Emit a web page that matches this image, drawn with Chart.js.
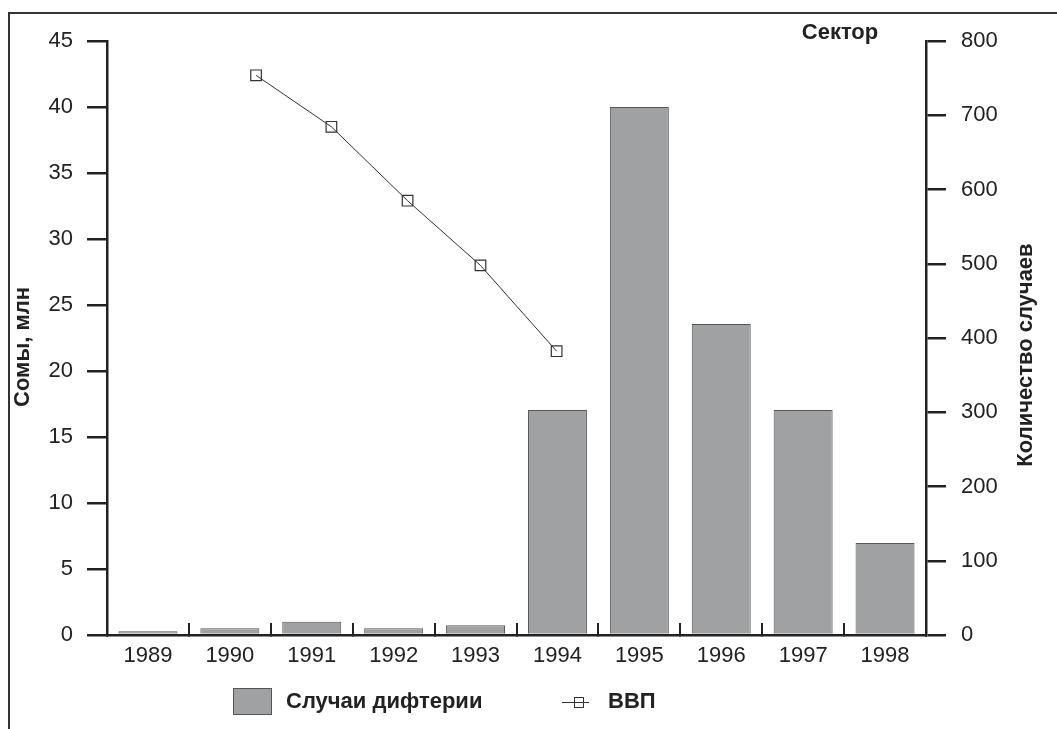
<!DOCTYPE html>
<html>
<head>
<meta charset="utf-8">
<script src="https://cdn.jsdelivr.net/npm/chart.js@4/dist/chart.umd.min.js"></script>
<style>
  body { margin: 0; background: #fff; }
  #wrap { position: relative; width: 1057px; height: 729px; }
</style>
</head>
<body>
<div id="wrap"><canvas id="chart"></canvas></div>
<script>
// Data
const years = ["1989", "1990", "1991", "1992", "1993", "1994", "1995", "1996", "1997", "1998"];
const diphtheriaCases = [5, 9, 18, 9, 13, 303, 711, 419, 303, 124];
// GDP points sit slightly off the year centres in the original
const gdpYears = [1990.32, 1991.24, 1992.17, 1993.06, 1993.99];
const gdpValues = [42.4, 38.5, 32.9, 28.0, 21.5];

const FONT = "'Liberation Sans', Arial, sans-serif";
const INK = "#222";
const BAR_FILL = "#a0a1a3";
const BAR_EDGE = "#555";

// frame, axis titles and legend
const decorPlugin = {
  id: "decor",
  beforeDraw(chart) {
    const ctx = chart.ctx;
    ctx.save();
    ctx.fillStyle = "#fff";
    ctx.fillRect(0, 0, chart.width, chart.height);
    ctx.strokeStyle = "#333";
    ctx.lineWidth = 2;
    ctx.beginPath();
    ctx.moveTo(9, chart.height);
    ctx.lineTo(9, 13);
    ctx.lineTo(chart.width, 13);
    ctx.stroke();
    ctx.restore();
  },
  afterDraw(chart) {
    const ctx = chart.ctx;
    ctx.save();
    ctx.fillStyle = INK;
    ctx.font = "bold 22px " + FONT;
    ctx.textAlign = "center";
    ctx.textBaseline = "middle";

    ctx.save();
    ctx.translate(23, 347);
    ctx.rotate(-Math.PI / 2);
    ctx.fillText("Сомы, млн", 0, 0);
    ctx.restore();

    ctx.save();
    ctx.translate(1026, 355);
    ctx.rotate(-Math.PI / 2);
    ctx.fillText("Количество случаев", 0, 0);
    ctx.restore();

    ctx.fillText("Сектор", 840, 33);

    // legend
    ctx.fillStyle = BAR_FILL;
    ctx.fillRect(233, 688, 38, 26);
    ctx.strokeStyle = BAR_EDGE;
    ctx.lineWidth = 1;
    ctx.strokeRect(233.5, 688.5, 38, 26);

    ctx.fillStyle = INK;
    ctx.textAlign = "left";
    ctx.fillText("Случаи дифтерии", 286, 702);

    ctx.strokeStyle = "#333";
    ctx.beginPath();
    ctx.moveTo(562, 702.5);
    ctx.lineTo(589, 702.5);
    ctx.stroke();
    ctx.strokeRect(574.5, 697.5, 9, 10);
    ctx.fillText("ВВП", 608, 702);
    ctx.restore();
  }
};

const ctx = document.getElementById("chart").getContext("2d");
const chart = new Chart(ctx, {
  type: "bar",
  data: {
    labels: years,
    datasets: [
      {
        label: "Случаи дифтерии",
        data: diphtheriaCases,
        backgroundColor: BAR_FILL,
        borderColor: BAR_EDGE,
        borderWidth: 1,
        barPercentage: 0.72,
        categoryPercentage: 1,
        grouped: false,
        xAxisID: "x",
        yAxisID: "y1",
        order: 2
      },
      {
        type: "line",
        label: "ВВП",
        data: gdpYears.map((yr, i) => ({ x: yr, y: gdpValues[i] })),
        borderColor: "#333",
        borderWidth: 1,
        pointStyle: "rect",
        pointRadius: 7.5,
        pointBackgroundColor: "rgba(0,0,0,0)",
        pointBorderColor: "#333",
        pointBorderWidth: 1.2,
        xAxisID: "x2",
        yAxisID: "y",
        order: 1
      }
    ]
  },
  options: {
    responsive: true,
    maintainAspectRatio: false,
    animation: false,
    layout: { padding: { top: 41, left: 0, right: 0, bottom: 0 } },
    plugins: {
      legend: { display: false },
      tooltip: { enabled: false }
    },
    scales: {
      x: {
        type: "category",
        offset: true,
        grid: {
          offset: true,
          drawOnChartArea: false,
          tickLength: -12,
          color: INK,
          lineWidth: 2
        },
        border: { color: INK, width: 2.5 },
        ticks: {
          color: INK,
          font: { family: FONT, size: 22 },
          padding: 20,
          maxRotation: 0
        },
        afterFit: (scale) => { scale.height = 94; }
      },
      x2: {
        type: "linear",
        display: false,
        offset: false,
        grace: 0,
        min: 1988.5,
        max: 1998.5
      },
      y: {
        position: "left",
        min: 0,
        max: 45,
        ticks: {
          stepSize: 5,
          color: INK,
          font: { family: FONT, size: 22 },
          padding: 14
        },
        grid: { drawOnChartArea: false, tickLength: 20, color: INK, lineWidth: 2.5 },
        border: { color: INK, width: 2.5 },
        afterFit: (scale) => { scale.width = 107; }
      },
      y1: {
        position: "right",
        min: 0,
        max: 800,
        ticks: {
          stepSize: 100,
          color: INK,
          font: { family: FONT, size: 22 },
          padding: 15
        },
        grid: { drawOnChartArea: false, tickLength: 20, color: INK, lineWidth: 2.5 },
        border: { color: INK, width: 2.5 },
        afterFit: (scale) => { scale.width = 131; }
      }
    }
  },
  plugins: [decorPlugin]
});
</script>
</body>
</html>
